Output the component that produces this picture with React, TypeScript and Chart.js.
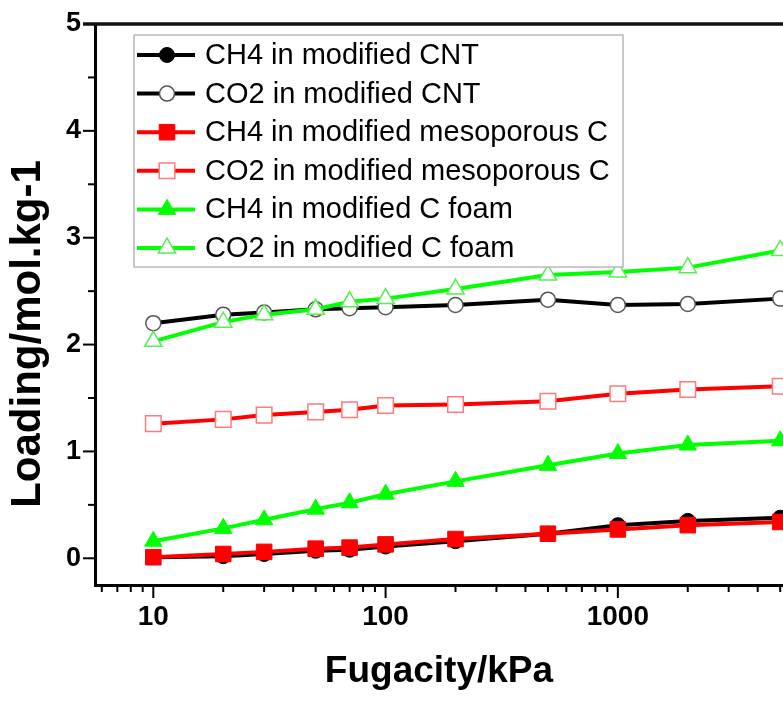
import React, { useEffect, useRef } from 'react';
import { Chart, registerables } from 'chart.js';

Chart.register(...registerables);

// ---- data ----
const fugacity = [10, 20, 30, 50, 70, 100, 200, 500, 1000, 2000, 5000];
const ch4CNT = [0.01, 0.02, 0.04, 0.07, 0.08, 0.11, 0.16, 0.23, 0.31, 0.35, 0.38];
const co2CNT = [2.2, 2.28, 2.3, 2.33, 2.34, 2.35, 2.37, 2.42, 2.37, 2.38, 2.43];
const ch4Meso = [0.01, 0.04, 0.06, 0.09, 0.1, 0.13, 0.18, 0.23, 0.27, 0.31, 0.34];
const co2Meso = [1.26, 1.3, 1.34, 1.37, 1.39, 1.43, 1.44, 1.47, 1.54, 1.58, 1.61];
const ch4Foam = [0.16, 0.28, 0.36, 0.46, 0.52, 0.6, 0.72, 0.87, 0.98, 1.06, 1.1];
const co2Foam = [2.03, 2.21, 2.28, 2.33, 2.4, 2.43, 2.52, 2.65, 2.68, 2.72, 2.88];

const seriesLabels = [
  'CH4 in modified CNT',
  'CO2 in modified CNT',
  'CH4 in modified mesoporous C',
  'CO2 in modified mesoporous C',
  'CH4 in modified C foam',
  'CO2 in modified C foam',
];
const xTickLabels = [10, 100, 1000];
const yTickLabels = [0, 1, 2, 3, 4, 5];
const xTitle = 'Fugacity/kPa';
const yTitle = 'Loading/mol.kg-1';

const FONT = '"Liberation Sans", Arial, Helvetica, sans-serif';

const X_MIN = 5.61;
const X_MAX = 5140;
const Y_MIN = -0.25;
const Y_MAX = 5;

function drawMarker(ctx: CanvasRenderingContext2D, style: string, x: number, y: number, r: number, fill: string, stroke: string, bw: number) {
  ctx.beginPath();
  if (style === 'circle') {
    ctx.arc(x, y, r, 0, Math.PI * 2);
  } else if (style === 'rect') {
    const s = Math.SQRT1_2 * r;
    ctx.rect(x - s, y - s, 2 * s, 2 * s);
  } else if (style === 'triangle') {
    let rad = 0;
    ctx.moveTo(x + Math.sin(rad) * r, y - Math.cos(rad) * r);
    rad += (2 * Math.PI) / 3;
    ctx.lineTo(x + Math.sin(rad) * r, y - Math.cos(rad) * r);
    rad += (2 * Math.PI) / 3;
    ctx.lineTo(x + Math.sin(rad) * r, y - Math.cos(rad) * r);
    ctx.closePath();
  }
  ctx.fillStyle = fill;
  ctx.fill();
  ctx.lineWidth = bw;
  ctx.strokeStyle = stroke;
  ctx.stroke();
}

const axisDecorPlugin = {
  id: 'axisDecor',
  afterDraw(chart: any) {
    const { ctx, chartArea, scales } = chart;
    const xs = scales.x;
    const ys = scales.y;
    ctx.save();
    ctx.strokeStyle = '#000';
    ctx.lineWidth = 2;
    // x ticks (log decades)
    for (let e = 0; e <= 3; e++) {
      for (let m = 1; m <= 9; m++) {
        const v = m * Math.pow(10, e);
        if (v < X_MIN || v > X_MAX) continue;
        const px = xs.getPixelForValue(v);
        const len = m === 1 ? 13 : 7;
        ctx.beginPath();
        ctx.moveTo(px, chartArea.bottom);
        ctx.lineTo(px, chartArea.bottom + len);
        ctx.stroke();
      }
    }
    // y ticks
    for (let v = 0; v <= Y_MAX + 1e-9; v += 0.5) {
      const py = ys.getPixelForValue(v);
      const major = Math.abs(v - Math.round(v)) < 1e-9;
      const len = major ? 12 : 7;
      ctx.beginPath();
      ctx.moveTo(chartArea.left, py);
      ctx.lineTo(chartArea.left - len, py);
      ctx.stroke();
    }
    // top frame line
    ctx.lineWidth = 3.5;
    ctx.strokeStyle = '#111';
    ctx.beginPath();
    ctx.moveTo(chartArea.left - 12, chartArea.top);
    ctx.lineTo(chartArea.right, chartArea.top);
    ctx.stroke();

    // y-axis title
    ctx.save();
    ctx.translate(28.5, 334);
    ctx.rotate(-Math.PI / 2);
    ctx.fillStyle = '#000';
    ctx.font = `bold 42px ${FONT}`;
    ctx.textAlign = 'center';
    ctx.textBaseline = 'middle';
    ctx.fillText(yTitle, 0, 0);
    ctx.restore();

    // legend
    const x0 = chartArea.left + 39;
    const y0 = chartArea.top + 11;
    const w = 489;
    const h = 232;
    ctx.fillStyle = '#fff';
    ctx.fillRect(x0, y0, w, h);
    ctx.lineWidth = 1.5;
    ctx.strokeStyle = '#b8b8b8';
    ctx.strokeRect(x0, y0, w, h);
    chart.data.datasets.forEach((ds: any, i: number) => {
      const cy = y0 + 20 + i * 38.6;
      ctx.lineWidth = 4;
      ctx.strokeStyle = ds.borderColor;
      ctx.beginPath();
      ctx.moveTo(x0 + 3, cy);
      ctx.lineTo(x0 + 61, cy);
      ctx.stroke();
      drawMarker(ctx, ds.pointStyle, x0 + 33, cy, ds.pointRadius, ds.pointBackgroundColor, ds.pointBorderColor, ds.pointBorderWidth);
      ctx.fillStyle = '#000';
      ctx.font = `29px ${FONT}`;
      ctx.textAlign = 'left';
      ctx.textBaseline = 'middle';
      ctx.fillText(ds.label, x0 + 71, cy + 1);
    });
    ctx.restore();
  },
};

function makeDataset(i: number, values: number[], color: string, style: string, radius: number, fill: string, stroke: string, bw: number) {
  return {
    label: seriesLabels[i],
    data: fugacity.map((f, k) => ({ x: f, y: values[k] })),
    borderColor: color,
    backgroundColor: color,
    borderWidth: 4,
    pointStyle: style,
    pointRadius: radius,
    pointHoverRadius: radius,
    pointBackgroundColor: fill,
    pointBorderColor: stroke,
    pointBorderWidth: bw,
    tension: 0,
    fill: false,
    order: 10 - i,
  };
}

export default function App() {
  const ref = useRef<HTMLCanvasElement>(null);
  useEffect(() => {
    const datasets = [
      makeDataset(0, ch4CNT, '#000000', 'circle', 7.5, '#000000', '#000000', 1),
      makeDataset(1, co2CNT, '#000000', 'circle', 7.5, '#ffffff', '#555555', 1.5),
      makeDataset(2, ch4Meso, '#ff0000', 'rect', 11, '#ff0000', '#ff0000', 1),
      makeDataset(3, co2Meso, '#ff0000', 'rect', 11, '#ffffff', '#ff7a7a', 1.5),
      makeDataset(4, ch4Foam, '#00ff00', 'triangle', 10, '#00ff00', '#00ff00', 1),
      makeDataset(5, co2Foam, '#00ff00', 'triangle', 10, '#ffffff', '#55ee55', 1.5),
    ];
    const chart = new Chart(ref.current as HTMLCanvasElement, {
      type: 'line',
      data: { datasets } as any,
      options: {
        responsive: false,
        animation: false,
        devicePixelRatio: 1,
        layout: { autoPadding: false, padding: { top: 24, left: 0, right: 0, bottom: 0 } },
        plugins: { legend: { display: false }, tooltip: { enabled: false } },
        events: [],
        scales: {
          x: {
            type: 'logarithmic',
            position: 'bottom',
            min: X_MIN,
            max: X_MAX,
            afterBuildTicks: (s: any) => {
              s.ticks = xTickLabels.map((v) => ({ value: v }));
            },
            afterFit: (s: any) => {
              s.height = 118;
              s.paddingLeft = 0;
              s.paddingRight = 0;
            },
            ticks: {
              color: '#000',
              font: { family: FONT, size: 28, weight: 'bold' },
              padding: 5,
              maxRotation: 0,
              autoSkip: false,
              callback: (v: any) => String(v),
            },
            grid: { display: true, drawOnChartArea: false, drawTicks: true, tickLength: 10, tickColor: 'rgba(0,0,0,0)' },
            border: { display: true, color: '#000', width: 3 },
            title: {
              display: true,
              text: xTitle,
              color: '#000',
              font: { family: FONT, size: 37, weight: 'bold' },
              padding: { top: 0, bottom: 9 },
            },
          },
          y: {
            type: 'linear',
            min: Y_MIN,
            max: Y_MAX,
            afterBuildTicks: (s: any) => {
              s.ticks = yTickLabels.map((v) => ({ value: v }));
            },
            afterFit: (s: any) => {
              s.width = 95;
              s.paddingTop = 0;
              s.paddingBottom = 0;
            },
            ticks: {
              color: '#000',
              font: { family: FONT, size: 27, weight: 'bold' },
              padding: 4,
              callback: (v: any) => String(v),
            },
            grid: { display: true, drawOnChartArea: false, drawTicks: true, tickLength: 10, tickColor: 'rgba(0,0,0,0)' },
            border: { display: true, color: '#000', width: 3 },
          },
        },
      } as any,
      plugins: [axisDecorPlugin],
    });
    return () => chart.destroy();
  }, []);
  return (
    <div style={{ position: 'fixed', left: 0, top: 0, width: 783, height: 703, background: '#fff' }}>
      <canvas ref={ref} width={783} height={703} style={{ width: 783, height: 703, display: 'block' }} />
    </div>
  );
}
